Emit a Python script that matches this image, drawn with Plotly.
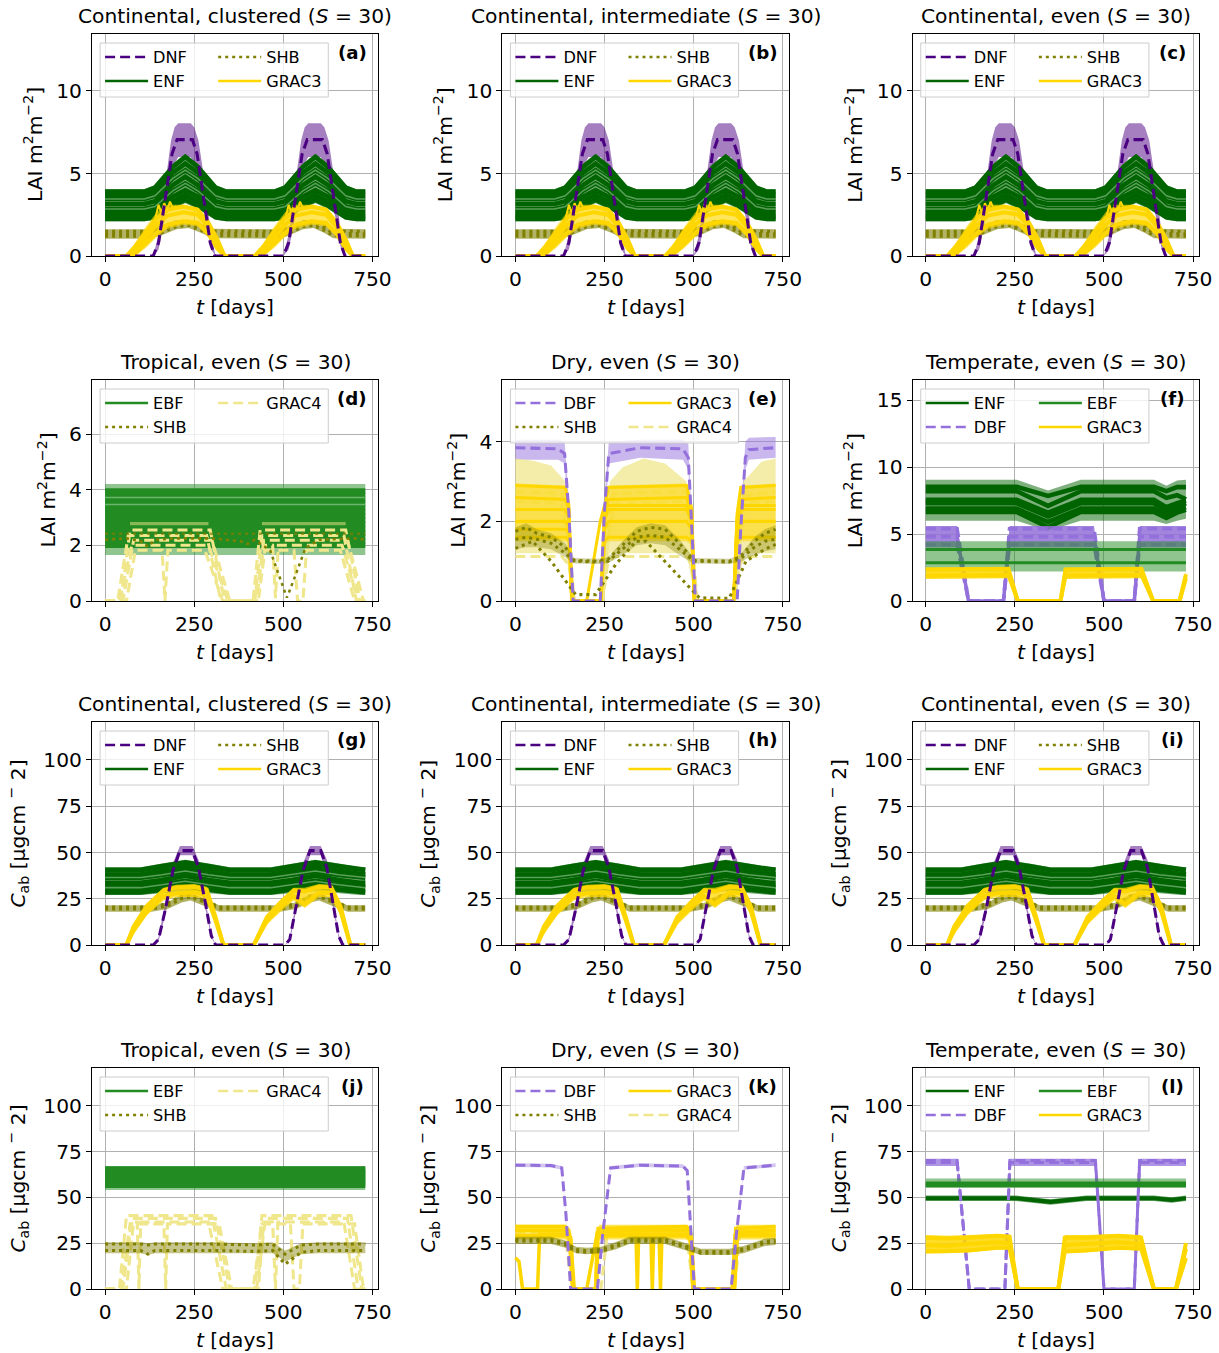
import plotly.graph_objects as go

# The captured page is slightly larger than the window (about 1.1% wider, 0.9% taller), so the figure is scaled up to make up for it
REF_W, REF_H = 1219, 1353
SCX = 1 / 0.989
SCY = 1 / 0.9915
W, H = round(REF_W * SCX), round(REF_H * SCY)
SC = SCX

# =====================================================================
# DATA  (x = day, y = LAI [m2 m-2] or Cab [ug cm-2])
# =====================================================================
FULL_T = [0, 730]

# ---------- (a)-(c) LAI, continental ----------
A_DNF_T = [0, 135, 150, 170, 188, 202, 245, 258, 277, 295, 308, 500, 515, 535, 553, 567, 610, 623, 642, 660, 673, 730]
A_DNF_Y = [0, 0, 0.8, 3.5, 6.2, 7.05, 7.05, 6.2, 3.5, 0.8, 0, 0, 0.8, 3.5, 6.2, 7.05, 7.05, 6.2, 3.5, 0.8, 0, 0]
A_DNF_BT = [0, 135, 150, 170, 185, 195, 205, 240, 250, 262, 280, 297, 310, 500, 515, 535, 550, 560, 570, 605, 615, 627, 645, 662, 675, 730]
A_DNF_HI = [0, 0, 1.3, 4.6, 7.0, 7.8, 8.05, 8.05, 7.8, 7.0, 4.4, 1.3, 0, 0, 1.3, 4.6, 7.0, 7.8, 8.05, 8.05, 7.8, 7.0, 4.4, 1.3, 0, 0]
A_DNF_LO = [0, 0, 0.4, 2.5, 4.5, 5.6, 6.0, 6.0, 5.6, 4.6, 2.5, 0.4, 0, 0, 0.4, 2.5, 4.5, 5.6, 6.0, 6.0, 5.6, 4.6, 2.5, 0.4, 0, 0]

A_ENF_T = [0, 110, 140, 190, 225, 260, 310, 340, 475, 505, 555, 590, 625, 675, 705, 730]
A_ENF_1 = [3.9, 3.9, 4.15, 5.4, 6.0, 5.4, 4.15, 3.9, 3.9, 4.15, 5.4, 6.0, 5.4, 4.15, 3.9, 3.9]
A_ENF_2 = [3.7, 3.7, 3.92, 5.05, 5.6, 5.05, 3.92, 3.7, 3.7, 3.92, 5.05, 5.6, 5.05, 3.92, 3.7, 3.7]
A_ENF_3 = [3.45, 3.45, 3.65, 4.7, 5.2, 4.7, 3.65, 3.45, 3.45, 3.65, 4.7, 5.2, 4.7, 3.65, 3.45, 3.45]
A_ENF_4 = [3.15, 3.15, 3.32, 4.3, 4.8, 4.3, 3.32, 3.15, 3.15, 3.32, 4.3, 4.8, 4.3, 3.32, 3.15, 3.15]
A_ENF_5 = [2.85, 2.85, 3.0, 3.95, 4.4, 3.95, 3.0, 2.85, 2.85, 3.0, 3.95, 4.4, 3.95, 3.0, 2.85, 2.85]
A_ENF_6 = [2.6, 2.6, 2.75, 3.6, 4.0, 3.6, 2.75, 2.6, 2.6, 2.75, 3.6, 4.0, 3.6, 2.75, 2.6, 2.6]
A_ENF_7 = [2.4, 2.4, 2.52, 3.3, 3.7, 3.3, 2.52, 2.4, 2.4, 2.52, 3.3, 3.7, 3.3, 2.52, 2.4, 2.4]
A_ENF_8 = [2.25, 2.25, 2.35, 3.05, 3.4, 3.05, 2.35, 2.25, 2.25, 2.35, 3.05, 3.4, 3.05, 2.35, 2.25, 2.25]
A_ENF_HI = [4.05, 4.05, 4.3, 5.6, 6.2, 5.6, 4.3, 4.05, 4.05, 4.3, 5.6, 6.2, 5.6, 4.3, 4.05, 4.05]
A_ENF_LO = [2.1, 2.1, 2.2, 2.85, 3.2, 2.85, 2.2, 2.1, 2.1, 2.2, 2.85, 3.2, 2.85, 2.2, 2.1, 2.1]
A_ENF_LINES = [A_ENF_1, A_ENF_2, A_ENF_3, A_ENF_4, A_ENF_5, A_ENF_6, A_ENF_7, A_ENF_8]
A_ENF_PALE = [A_ENF_3, A_ENF_5]

A_SHB_T = [0, 110, 150, 200, 235, 270, 300, 470, 510, 555, 585, 615, 640, 730]
A_SHB_1 = [1.35, 1.35, 1.5, 1.95, 2.0, 1.7, 1.38, 1.35, 1.5, 1.95, 2.0, 1.7, 1.38, 1.35]
A_SHB_2 = [1.5, 1.5, 1.65, 2.07, 2.1, 1.82, 1.52, 1.5, 1.65, 2.07, 2.1, 1.82, 1.52, 1.5]
A_SHB_3 = [1.2, 1.2, 1.33, 1.78, 1.85, 1.55, 1.23, 1.2, 1.33, 1.78, 1.85, 1.55, 1.23, 1.2]
A_SHB_HI = [1.62, 1.62, 1.78, 2.17, 2.2, 1.95, 1.65, 1.62, 1.78, 2.17, 2.2, 1.95, 1.65, 1.62]
A_SHB_LO = [1.05, 1.05, 1.18, 1.62, 1.7, 1.4, 1.08, 1.05, 1.18, 1.62, 1.7, 1.4, 1.08, 1.05]
A_SHB_LINES = [A_SHB_1, A_SHB_2, A_SHB_3]

A_G3_T = [0, 60, 85, 115, 145, 175, 220, 260, 290, 315, 335, 420, 445, 475, 505, 535, 580, 620, 650, 675, 695, 730]
A_G3_1 = [0, 0, 0.6, 1.5, 2.3, 2.8, 3.0, 2.8, 2.0, 1.0, 0, 0, 0.6, 1.5, 2.3, 2.8, 3.0, 2.8, 2.0, 1.0, 0, 0]
A_G3_2 = [0, 0, 0.35, 1.1, 1.9, 2.45, 2.65, 2.5, 1.75, 0.75, 0, 0, 0.35, 1.1, 1.9, 2.45, 2.65, 2.5, 1.75, 0.75, 0, 0]
A_G3_3 = [0, 0, 0.15, 0.75, 1.4, 1.9, 2.1, 2.0, 1.35, 0.45, 0, 0, 0.15, 0.75, 1.4, 1.9, 2.1, 2.0, 1.35, 0.45, 0, 0]
A_G3_HI = [0, 0, 0.8, 1.8, 2.65, 3.1, 3.1, 2.95, 2.2, 1.2, 0, 0, 0.8, 1.8, 2.65, 3.1, 3.1, 2.95, 2.2, 1.2, 0, 0]
A_G3_LO = [0, 0, 0, 0.5, 1.15, 1.65, 1.9, 1.8, 1.1, 0.3, 0, 0, 0, 0.5, 1.15, 1.65, 1.9, 1.8, 1.1, 0.3, 0, 0]
A_G3_LINES = [A_G3_1, A_G3_2, A_G3_3]
A_G3_ZZ_T = [140, 150, 158, 166, 174, 182, 190, 200, None, 505, 515, 523, 531, 539, 547, 555, 565]
A_G3_ZZ_Y = [2.2, 3.1, 2.6, 3.2, 2.75, 3.3, 2.9, 3.0, None, 2.2, 3.1, 2.6, 3.2, 2.75, 3.3, 2.9, 3.0]

# ---------- (d) LAI, tropical ----------
D_EBF_LEVELS = [3.95, 3.8, 3.65, 3.5, 3.35, 3.2, 3.05, 2.9, 2.75, 2.6, 2.45, 2.3, 2.15, 2.0]
D_EBF_PALE = [3.72, 3.47]
D_EBF_HI = [4.2, 4.2]
D_EBF_LO = [1.65, 1.65]
D_G4_TOP_T = [70, 290, None, 440, 675]
D_G4_TOP_Y = [2.78, 2.78, None, 2.78, 2.78]
D_G4_1_T = [0, 45, 70, 295, 335, 415, 435, 675, 715, 730]
D_G4_1_Y = [0, 0, 2.55, 2.55, 0, 0, 2.55, 2.55, 0, 0]
D_G4_2_T = [0, 35, 65, 285, 325, 420, 440, 670, 705, 730]
D_G4_2_Y = [0, 0, 2.35, 2.35, 0, 0, 2.35, 2.35, 0, 0]
D_G4_3_T = [0, 50, 80, 300, 350, 425, 445, 680, 725, 730]
D_G4_3_Y = [0, 0, 2.18, 2.18, 0, 0, 2.18, 2.18, 0, 0]
D_G4_4_T = [0, 40, 75, 290, 345, 430, 450, 470, 478, 486, 665, 710, 730]
D_G4_4_Y = [0, 0, 2.0, 2.0, 0, 0, 2.0, 2.0, 0.1, 2.0, 2.0, 0, 0]
D_G4_5_T = [0, 60, 85, 160, 168, 176, 280, 330, 420, 445, 530, 540, 555, 565, 660, 700, 730]
D_G4_5_Y = [0, 0, 1.82, 1.82, 0, 1.82, 1.82, 0, 0, 1.82, 1.82, 0, 0, 1.82, 1.82, 0, 0]
D_SHB_1_T = [0, 60, 100, 120, 140, 200, 300, 380, 400, 420, 463, 487, 510, 535, 562, 600, 700, 730]
D_SHB_1_Y = [2.2, 2.25, 2.15, 1.95, 2.2, 2.25, 2.25, 2.15, 2.05, 2.2, 1.82, 0.95, 0.12, 0.95, 1.9, 2.2, 2.25, 2.2]
D_SHB_2_Y = [2.42, 2.42]

# ---------- (e) LAI, dry ----------
E_DBF_T = [0, 120, 138, 150, 162, 238, 250, 262, 350, 470, 485, 497, 505, 622, 632, 645, 655, 730]
E_DBF_Y = [3.85, 3.82, 3.7, 2.2, 0, 0, 2.3, 3.7, 3.85, 3.82, 3.6, 1.5, 0, 0, 1.8, 3.6, 3.8, 3.85]
E_DBF_HI = [4.05, 4.05, 4.0, 2.5, 0, 0, 2.6, 4.0, 4.05, 4.05, 3.95, 1.7, 0, 0, 2.1, 4.0, 4.1, 4.12]
E_DBF_LO = [3.55, 3.55, 3.45, 1.9, 0, 0, 2.0, 3.45, 3.6, 3.55, 3.3, 1.3, 0, 0, 1.5, 3.3, 3.55, 3.6]

E_G4B_T = [0, 50, 100, 140, 152, 165, 240, 252, 265, 300, 360, 420, 480, 492, 505, 615, 628, 640, 690, 730]
E_G4B_HI = [3.58, 3.52, 3.4, 3.0, 1.5, 0, 0, 1.5, 3.0, 3.35, 3.58, 3.45, 3.0, 1.5, 0, 0, 1.5, 3.0, 3.5, 3.58]
E_G4B_LO = [1.2, 1.2, 1.2, 1.2, 0.6, 0, 0, 0.6, 1.2, 1.2, 1.2, 1.2, 1.2, 0.6, 0, 0, 0.6, 1.2, 1.2, 1.2]
E_G4_T = [0, 130, 150, 165, 245, 258, 275, 480, 495, 510, 615, 628, 645, 730]
E_G4_1 = [2.75, 2.7, 1.5, 0, 0, 1.5, 2.7, 2.75, 1.5, 0, 0, 1.5, 2.65, 2.75]
E_G4_2 = [2.5, 2.45, 1.4, 0, 0, 1.4, 2.45, 2.5, 1.4, 0, 0, 1.4, 2.45, 2.5]
E_G4_3 = [1.12, 1.12, 0.9, 0, 0, 0.9, 1.12, 1.12, 0.9, 0, 0, 0.9, 1.12, 1.12]
E_G4_LINES = [E_G4_1, E_G4_2, E_G4_3]

E_G3_T = [0, 140, 150, 158, 240, 250, 260, 480, 495, 502, 612, 622, 632, 730]
E_G3_1 = [2.9, 2.85, 2.4, 0, 0, 2.3, 2.85, 2.9, 2.3, 0, 0, 2.2, 2.85, 2.9]
E_G3_2 = [2.6, 2.55, 2.3, 0, 0, 2.2, 2.55, 2.6, 2.2, 0, 0, 2.1, 2.55, 2.6]
E_G3_3 = [2.3, 2.3, 2.1, 0, 0, 2.0, 2.3, 2.3, 2.0, 0, 0, 2.0, 2.3, 2.3]
E_G3_4 = [2.0, 2.0, 1.9, 0, 0, 1.8, 2.0, 2.0, 1.8, 0, 0, 1.8, 2.0, 2.0]
E_G3_5 = [1.6, 1.6, 1.55, 0, 0, 1.5, 1.6, 1.6, 1.5, 0, 0, 1.5, 1.6, 1.6]
E_G3_LINES = [E_G3_1, E_G3_2, E_G3_3, E_G3_4, E_G3_5]
E_G3_HI = [2.95, 2.9, 2.5, 0, 0, 2.4, 2.9, 2.95, 2.4, 0, 0, 2.3, 2.9, 2.95]
E_G3_LO = [1.5, 1.5, 1.45, 0, 0, 1.4, 1.5, 1.5, 1.4, 0, 0, 1.4, 1.5, 1.5]
E_G3_6_T = [0, 142, 152, 160, 200, 220, 238, 250, 480, 494, 502, 612, 625, 632, 730]
E_G3_6_Y = [1.8, 1.8, 1.7, 0, 0, 1.0, 2.0, 2.4, 2.4, 2.0, 0, 0, 1.8, 2.4, 2.4]

E_SHB_A_T = [0, 48, 100, 169, 225, 280, 338, 366, 440, 516, 600, 647, 700, 730]
E_SHB_A_Y = [1.32, 1.5, 1.0, 0.16, 0.16, 0.9, 1.5, 1.5, 0.8, 0.08, 0.07, 1.0, 1.3, 1.42]
E_SHB_T = [0, 30, 60, 100, 140, 165, 230, 260, 300, 340, 380, 420, 460, 500, 600, 630, 670, 700, 730]
E_SHB_B = [1.75, 1.85, 1.7, 1.6, 1.35, 1.02, 1.0, 1.05, 1.4, 1.75, 1.85, 1.8, 1.45, 1.02, 1.0, 1.1, 1.5, 1.7, 1.8]
E_SHB_C = [1.55, 1.6, 1.55, 1.45, 1.2, 1.0, 0.98, 1.0, 1.3, 1.6, 1.65, 1.6, 1.3, 1.0, 0.98, 1.05, 1.35, 1.5, 1.55]
E_SHB_HI = [1.85, 1.95, 1.8, 1.7, 1.45, 1.08, 1.06, 1.1, 1.5, 1.85, 1.95, 1.9, 1.55, 1.08, 1.06, 1.15, 1.6, 1.8, 1.9]
E_SHB_LO = [1.3, 1.35, 1.35, 1.3, 1.1, 0.94, 0.93, 0.95, 1.15, 1.4, 1.45, 1.4, 1.15, 0.94, 0.93, 0.98, 1.15, 1.25, 1.3]

# ---------- (f) LAI, temperate ----------
F_ENF_T = [0, 255, 343, 435, 640, 675, 705, 730]
F_ENF_1 = [8.53, 8.53, 7.85, 8.53, 8.53, 8.2, 8.5, 8.5]
F_ENF_2 = [8.2, 8.2, 7.1, 8.2, 8.2, 7.7, 7.9, 7.6]
F_ENF_3 = [7.55, 7.55, 6.6, 7.55, 7.55, 7.0, 7.3, 7.5]
F_ENF_4 = [7.3, 7.3, 6.3, 7.3, 7.3, 6.7, 7.0, 7.3]
F_ENF_5 = [6.9, 6.9, 5.9, 6.9, 6.9, 6.4, 6.8, 7.0]
F_ENF_6 = [6.65, 6.65, 5.5, 6.65, 6.65, 6.2, 6.6, 6.8]
F_ENF_LINES = [F_ENF_1, F_ENF_2, F_ENF_3, F_ENF_4, F_ENF_5, F_ENF_6]
F_ENF_HI = [9.05, 9.05, 8.25, 9.05, 9.05, 8.6, 9.0, 9.05]
F_ENF_LO = [6.0, 6.0, 5.25, 6.0, 6.0, 5.75, 6.0, 6.15]
F_EBF_LEVELS = [3.85, 2.85]
F_EBF_HI = [4.47, 4.47]
F_EBF_LO = [2.2, 2.2]
F_DBF_T = [0, 88, 120, 218, 235, 472, 500, 585, 600, 730]
F_DBF_1 = [5.4, 5.4, 0, 0, 5.4, 5.4, 0, 0, 5.4, 5.4]
F_DBF_2 = [4.8, 4.8, 0, 0, 4.8, 4.8, 0, 0, 4.8, 4.8]
F_DBF_3 = [4.2, 4.2, 0, 0, 4.2, 4.2, 0, 0, 4.2, 4.2]
F_DBF_LINES = [F_DBF_1, F_DBF_2, F_DBF_3]
F_DBF_HI = [5.6, 5.6, 0, 0, 5.6, 5.6, 0, 0, 5.6, 5.6]
F_DBF_LO = [4.0, 4.0, 0, 0, 4.0, 4.0, 0, 0, 4.0, 4.0]
F_G3_T = [0, 232, 258, 378, 392, 605, 638, 712, 730]
F_G3_1 = [2.35, 2.4, 0, 0, 2.35, 2.4, 0, 0, 2.0]
F_G3_2 = [1.9, 1.95, 0, 0, 1.9, 1.95, 0, 0, 1.7]
F_G3_LINES = [F_G3_1, F_G3_2]
F_G3_HI = [2.5, 2.5, 0, 0, 2.5, 2.5, 0, 0, 2.2]
F_G3_LO = [1.65, 1.7, 0, 0, 1.65, 1.7, 0, 0, 1.5]

# ---------- (g)-(i) Cab, continental ----------
G_DNF_T = [0, 135, 150, 170, 190, 210, 245, 262, 282, 298, 310, 505, 518, 535, 555, 575, 605, 622, 640, 655, 667, 730]
G_DNF_Y = [0, 0, 3, 20, 40, 51, 51, 42, 22, 5, 0, 0, 3, 20, 40, 51, 51, 42, 22, 5, 0, 0]
G_DNF_HI = [0, 0, 4, 23, 44, 53.5, 53.5, 46, 25, 6, 0, 0, 4, 23, 44, 53.5, 53.5, 46, 25, 6, 0, 0]
G_DNF_LO = [0, 0, 2, 17, 36, 48.5, 48.5, 38, 19, 4, 0, 0, 2, 17, 36, 48.5, 48.5, 38, 19, 4, 0, 0]
G_ENF_T = [0, 100, 160, 225, 290, 350, 465, 525, 590, 655, 715, 730]
G_ENF_1 = [40.5, 40.5, 42.5, 44.5, 42.5, 40.5, 40.5, 42.5, 44.5, 42.5, 40.5, 40.5]
G_ENF_2 = [38, 38, 40, 42, 40, 38, 38, 40, 42, 40, 38, 38]
G_ENF_3 = [36.5, 36.5, 38, 40, 38, 36.5, 36.5, 38, 40, 38, 36.5, 36.5]
G_ENF_4 = [33.5, 33.5, 35, 37.5, 35, 33.5, 33.5, 35, 37.5, 35, 33.5, 33.5]
G_ENF_5 = [31, 31, 32.5, 34.5, 32.5, 31, 31, 32.5, 34.5, 32.5, 31, 31]
G_ENF_6 = [28.5, 28.5, 30, 32, 30, 28.5, 28.5, 30, 32, 30, 28.5, 28.5]
G_ENF_LINES = [G_ENF_1, G_ENF_2, G_ENF_3, G_ENF_4, G_ENF_5, G_ENF_6]
G_ENF_PALE = [G_ENF_3, G_ENF_5]
G_ENF_HI = [42, 42, 44, 46, 44, 42, 42, 44, 46, 44, 42, 42]
G_ENF_LO = [27, 27, 28, 29, 28, 27, 27, 28, 29, 28, 27, 27]
G_SHB_T = [0, 130, 175, 215, 240, 280, 320, 490, 535, 575, 600, 640, 680, 730]
G_SHB_1 = [19.5, 19.5, 21, 25, 26, 23, 19.5, 19.5, 21, 25, 26, 23, 19.5, 19.5]
G_SHB_2 = [20.5, 20.5, 22.5, 26.5, 27, 24, 20.5, 20.5, 22.5, 26.5, 27, 24, 20.5, 20.5]
G_SHB_LINES = [G_SHB_1, G_SHB_2]
G_SHB_HI = [21.5, 21.5, 23, 27.5, 28, 25, 21.5, 21.5, 23, 27.5, 28, 25, 21.5, 21.5]
G_SHB_LO = [18, 18, 19.5, 23, 24, 21, 18, 18, 19.5, 23, 24, 21, 18, 18]
G_G3_T = [0, 60, 80, 117, 164, 200, 250, 285, 310, 332, 417, 454, 492, 529, 560, 600, 635, 661, 688, 730]
G_G3_1 = [0, 0, 10, 21, 29.5, 31, 31.5, 30, 15, 0, 0, 15, 23, 29.5, 29, 31.5, 31, 20.5, 0, 0]
G_G3_2 = [0, 0, 8, 18, 26.5, 28, 28.5, 27, 13, 0, 0, 13, 20.5, 26.5, 22, 28.5, 28, 18, 0, 0]
G_G3_LINES = [G_G3_1, G_G3_2]
G_G3_HI = [0, 0, 11, 22.5, 31, 32.5, 33, 31.5, 16, 0, 0, 16, 24, 31, 31, 33, 32.5, 22, 0, 0]
G_G3_LO = [0, 0, 6, 16, 24, 26, 26, 25, 11, 0, 0, 11, 18, 24, 20, 26, 26, 16, 0, 0]

# ---------- (j) Cab, tropical ----------
J_EBF_LEVELS = [65.5, 64, 62.5, 61, 59.5, 58, 56.5]
J_EBF_HI = [67, 67]
J_EBF_LO = [54, 54]
J_G4_1_T = [0, 40, 60, 300, 340, 420, 440, 690, 720, 730]
J_G4_1_Y = [0, 0, 40, 40, 0, 0, 40, 40, 0, 0]
J_G4_2_T = [0, 50, 75, 310, 350, 425, 450, 680, 710, 730]
J_G4_2_Y = [0, 0, 38.5, 38.5, 0, 0, 38.5, 38.5, 0, 0]
J_G4_3_T = [0, 60, 80, 90, 95, 100, 290, 330, 430, 445, 470, 478, 485, 670, 700, 730]
J_G4_3_Y = [0, 0, 36.5, 36.5, 0, 36.5, 36.5, 0, 0, 36.5, 36.5, 0, 36.5, 36.5, 0, 0]
J_G4_4_T = [0, 45, 70, 165, 170, 175, 320, 355, 415, 440, 520, 530, 545, 555, 700, 725, 730]
J_G4_4_Y = [0, 0, 35.5, 35.5, 0, 35.5, 35.5, 0, 0, 35.5, 35.5, 0, 0, 35.5, 35.5, 0, 0]
J_SHB_T = [0, 100, 120, 140, 300, 420, 470, 505, 550, 600, 730]
J_SHB_1 = [24.5, 24.5, 24, 24.5, 24.5, 24, 24.5, 19, 24, 24.5, 24.5]
J_SHB_2 = [21, 21, 19, 21, 21, 20.5, 21, 13.5, 20, 21, 21]
J_SHB_HI = [25.5, 25.5, 25, 25.5, 25.5, 25, 25.5, 21, 25, 25.5, 25.5]
J_SHB_LO = [19.5, 19.5, 18.5, 19.5, 19.5, 19.5, 19.5, 15, 19, 19.5, 19.5]

# ---------- (k) Cab, dry ----------
K_DBF_T = [0, 100, 130, 142, 155, 230, 245, 267, 350, 470, 482, 492, 502, 605, 620, 641, 730]
K_DBF_Y = [67.5, 67.3, 66, 40, 0, 0, 30, 66, 67.5, 67, 64.5, 30, 0, 0, 30, 66, 67.5]
K_DBF_HI = [68.5, 68.3, 67, 41, 0, 0, 31, 67, 68.5, 68, 65.5, 31, 0, 0, 31, 67, 68.5]
K_DBF_LO = [66.5, 66.3, 65, 39, 0, 0, 29, 65, 66.5, 66, 63.5, 29, 0, 0, 29, 65, 66.5]
K_G4_T = [0, 140, 158, 240, 258, 480, 498, 615, 630, 730]
K_G4_Y = [31, 31, 0, 0, 31, 31, 0, 0, 31, 31]
K_G3_1_T = [0, 140, 150, 160, 228, 232, 480, 490, 498, 610, 618, 730]
K_G3_1_Y = [34, 34, 32, 0, 0, 33, 34, 32, 0, 0, 33, 34]
K_G3_2_T = [0, 142, 152, 162, 226, 230, 338, 342, 346, 484, 492, 500, 612, 620, 730]
K_G3_2_Y = [32, 32, 30, 0, 0, 31, 32, 0, 32, 32, 30, 0, 0, 31, 32]
K_G3_3_T = [0, 10, 20, 62, 68, 145, 155, 163, 200, 215, 229, 380, 384, 388, 486, 494, 502, 615, 623, 730]
K_G3_3_Y = [17, 15, 0, 0, 30, 30, 28, 0, 0, 15, 30, 30, 0, 30, 30, 28, 0, 0, 30, 30]
K_G3_4_T = [0, 145, 155, 165, 225, 230, 403, 407, 411, 482, 490, 498, 608, 616, 730]
K_G3_4_Y = [29, 29, 27, 0, 0, 29, 29, 0, 29, 29, 27, 0, 0, 29, 29]
K_G3B_T = [0, 140, 150, 160, 228, 235, 480, 490, 500, 610, 620, 730]
K_G3B_HI = [35, 35, 33, 0, 0, 35, 35, 33, 0, 0, 35, 35]
K_G3B_LO = [27, 27, 25, 0, 0, 27, 27, 25, 0, 0, 27, 27]
K_SHB_T = [0, 100, 140, 170, 200, 240, 280, 320, 420, 470, 520, 600, 640, 700, 730]
K_SHB_1 = [27, 27, 25, 21.5, 21, 21.5, 24, 27, 27, 24, 20.5, 20.5, 22, 26, 26.5]
K_SHB_2 = [26, 26, 24, 20.5, 20, 20.5, 23, 26, 26, 23, 19.5, 19.5, 21, 25, 25.5]
K_SHB_HI = [28.5, 28.5, 26.5, 23, 22.5, 23, 25.5, 28.5, 28.5, 25.5, 22, 22, 23.5, 27.5, 28]
K_SHB_LO = [24.5, 24.5, 22.5, 19.5, 19, 19.5, 21.5, 24.5, 24.5, 21.5, 18.5, 18.5, 19.5, 23.5, 24]

# ---------- (l) Cab, temperate ----------
L_ENF_T = [0, 250, 350, 450, 640, 690, 730]
L_ENF_Y = [49.5, 49.5, 47.5, 49.5, 49.5, 48.5, 49.5]
L_ENF_HI = [51, 51, 49, 51, 51, 50, 51]
L_ENF_LO = [48, 48, 46, 48, 48, 47, 48]
L_EBF_LEVELS = [57.5, 56.5]
L_EBF_HI = [60.3, 60.3]
L_EBF_LO = [55.5, 55.5]
L_DBF_T = [0, 88, 122, 222, 236, 476, 500, 585, 600, 730]
L_DBF_1 = [69, 69, 0, 0, 69, 69, 0, 0, 69, 69]
L_DBF_2 = [70, 70, 0, 0, 70, 70, 0, 0, 70, 70]
L_DBF_LINES = [L_DBF_1, L_DBF_2]
L_DBF_HI = [71, 71, 0, 0, 71, 71, 0, 0, 71, 71]
L_DBF_LO = [67, 67, 0, 0, 67, 67, 0, 0, 67, 67]
L_G3_T = [0, 60, 120, 200, 235, 258, 372, 390, 450, 540, 604, 640, 702, 730]
L_G3_1 = [28, 27.5, 28, 29, 28.5, 0, 0, 28, 28, 29, 28, 0, 0, 25]
L_G3_2 = [24, 23.5, 24.5, 25.5, 25, 0, 0, 24, 24.5, 25.5, 24.5, 0, 0, 22]
L_G3_3 = [20.5, 20.5, 21, 22.5, 22.5, 0, 0, 20.5, 21, 22.5, 22, 0, 0, 17]
L_G3_LINES = [L_G3_1, L_G3_2, L_G3_3]
L_G3_HI = [29.5, 29, 29.5, 30, 29.5, 0, 0, 29.5, 29.5, 30, 29.5, 0, 0, 26]
L_G3_LO = [19.5, 19.5, 20, 21.5, 21.5, 0, 0, 19.5, 20, 21.5, 21, 0, 0, 15]

# ---------- axis ticks ----------
X_TICKS = [0, 250, 500, 750]
LAI_TICKS_A = [0, 5, 10]
LAI_TICKS_D = [0, 2, 4, 6]
LAI_TICKS_E = [0, 2, 4]
LAI_TICKS_F = [0, 5, 10, 15]
CAB_TICKS = [0, 25, 50, 75, 100]

# =====================================================================
# STYLE / LAYOUT
# =====================================================================
COLOR = {'DNF': '#4B0082', 'ENF': '#006400', 'SHB': '#808000', 'GRAC3': '#FFD700',
         'EBF': '#228B22', 'GRAC4': '#F0E68C', 'DBF': '#9370DB'}
DASH = {'DNF': '10px,5px', 'ENF': 'solid', 'SHB': '3px,4px', 'GRAC3': 'solid',
        'EBF': 'solid', 'GRAC4': '10px,5px', 'DBF': '10px,5px'}
FONT = 'DejaVu Sans'
FS = 20 * SC
FS_LEG = 16 * SC
FS_LET = 18 * SC
COL_L = [92, 502, 912]
COL_R = [378, 788, 1198]
ROW_T = [34, 380, 722, 1068]
ROW_B = [256, 601, 945, 1289]

fig = go.Figure()


def rgba(h, a):
    h = h.lstrip('#')
    return 'rgba(%d,%d,%d,%.3f)' % (int(h[0:2], 16), int(h[2:4], 16), int(h[4:6], 16), a)


def axn(i):
    return ('x' if i == 0 else 'x%d' % (i + 1)), ('y' if i == 0 else 'y%d' % (i + 1))


def band(ax, pft, T, lo, hi, alpha=0.5):
    xa, ya = axn(ax)
    fig.add_trace(go.Scatter(x=list(T) + list(T)[::-1], y=list(hi) + list(lo)[::-1],
                             fill='toself', fillcolor=rgba(COLOR[pft], alpha),
                             line=dict(width=0), mode='lines', showlegend=False,
                             hoverinfo='skip', xaxis=xa, yaxis=ya))


def line(ax, pft, T, Y, width=3.0, opacity=1.0, dash=None, color=None):
    xa, ya = axn(ax)
    fig.add_trace(go.Scatter(x=T, y=Y, mode='lines',
                             line=dict(color=color or COLOR[pft], width=width * SC, dash=dash or DASH[pft]),
                             opacity=opacity, showlegend=False, hoverinfo='skip',
                             connectgaps=False, xaxis=xa, yaxis=ya))


PALE_GREEN = 'rgba(200,230,200,0.45)'


def draw_A(ax):
    band(ax, 'DNF', A_DNF_BT, A_DNF_LO, A_DNF_HI)
    band(ax, 'ENF', A_ENF_T, A_ENF_LO, A_ENF_HI, 0.55)
    for y in A_ENF_LINES:
        line(ax, 'ENF', A_ENF_T, y, width=4.5)
    for y in A_ENF_PALE:
        line(ax, 'ENF', A_ENF_T, y, width=1.5, color=PALE_GREEN)
    band(ax, 'SHB', A_SHB_T, A_SHB_LO, A_SHB_HI, 0.6)
    for y in A_SHB_LINES:
        line(ax, 'SHB', A_SHB_T, y)
    band(ax, 'GRAC3', A_G3_T, A_G3_LO, A_G3_HI, 0.65)
    for y in A_G3_LINES:
        line(ax, 'GRAC3', A_G3_T, y, width=4)
    line(ax, 'GRAC3', A_G3_ZZ_T, A_G3_ZZ_Y, width=2)
    line(ax, 'DNF', A_DNF_T, A_DNF_Y)


def draw_D(ax):
    band(ax, 'EBF', FULL_T, D_EBF_LO, D_EBF_HI)
    for lv in D_EBF_LEVELS:
        line(ax, 'EBF', FULL_T, [lv, lv], width=5.5)
    for lv in D_EBF_PALE:
        line(ax, 'EBF', FULL_T, [lv, lv], width=1.5, color=PALE_GREEN)
    line(ax, 'GRAC4', D_G4_TOP_T, D_G4_TOP_Y, width=3, opacity=0.5, dash='solid')
    for T, Y in [(D_G4_1_T, D_G4_1_Y), (D_G4_2_T, D_G4_2_Y), (D_G4_3_T, D_G4_3_Y),
                 (D_G4_4_T, D_G4_4_Y), (D_G4_5_T, D_G4_5_Y)]:
        line(ax, 'GRAC4', T, Y, width=3)
    line(ax, 'SHB', FULL_T, D_SHB_2_Y, width=2.5, opacity=0.7)
    line(ax, 'SHB', D_SHB_1_T, D_SHB_1_Y, width=2.5)


def draw_E(ax):
    band(ax, 'DBF', E_DBF_T, E_DBF_LO, E_DBF_HI)
    band(ax, 'GRAC4', E_G4B_T, E_G4B_LO, E_G4B_HI, 0.75)
    for y in E_G4_LINES:
        line(ax, 'GRAC4', E_G4_T, y)
    band(ax, 'GRAC3', E_G3_T, E_G3_LO, E_G3_HI, 0.55)
    for y in E_G3_LINES:
        line(ax, 'GRAC3', E_G3_T, y)
    line(ax, 'GRAC3', E_G3_6_T, E_G3_6_Y)
    band(ax, 'SHB', E_SHB_T, E_SHB_LO, E_SHB_HI, 0.35)
    line(ax, 'SHB', E_SHB_T, E_SHB_B)
    line(ax, 'SHB', E_SHB_T, E_SHB_C)
    line(ax, 'SHB', E_SHB_A_T, E_SHB_A_Y)
    line(ax, 'DBF', E_DBF_T, E_DBF_Y)


def draw_F(ax):
    band(ax, 'ENF', F_ENF_T, F_ENF_LO, F_ENF_HI)
    for y in F_ENF_LINES:
        line(ax, 'ENF', F_ENF_T, y, width=4.5)
    band(ax, 'DBF', F_DBF_T, F_DBF_LO, F_DBF_HI, 0.85)
    for y in F_DBF_LINES:
        line(ax, 'DBF', F_DBF_T, y, width=3.5)
    band(ax, 'EBF', FULL_T, F_EBF_LO, F_EBF_HI)
    for lv in F_EBF_LEVELS:
        line(ax, 'EBF', FULL_T, [lv, lv])
    band(ax, 'GRAC3', F_G3_T, F_G3_LO, F_G3_HI, 0.85)
    for y in F_G3_LINES:
        line(ax, 'GRAC3', F_G3_T, y, width=4)


def draw_G(ax):
    band(ax, 'DNF', G_DNF_T, G_DNF_LO, G_DNF_HI)
    band(ax, 'ENF', G_ENF_T, G_ENF_LO, G_ENF_HI, 0.55)
    for y in G_ENF_LINES:
        line(ax, 'ENF', G_ENF_T, y, width=5)
    for y in G_ENF_PALE:
        line(ax, 'ENF', G_ENF_T, y, width=1.5, color=PALE_GREEN)
    band(ax, 'SHB', G_SHB_T, G_SHB_LO, G_SHB_HI, 0.6)
    for y in G_SHB_LINES:
        line(ax, 'SHB', G_SHB_T, y)
    band(ax, 'GRAC3', G_G3_T, G_G3_LO, G_G3_HI, 0.75)
    for y in G_G3_LINES:
        line(ax, 'GRAC3', G_G3_T, y, width=4)
    line(ax, 'DNF', G_DNF_T, G_DNF_Y)


def draw_J(ax):
    band(ax, 'EBF', FULL_T, J_EBF_LO, J_EBF_HI)
    for lv in J_EBF_LEVELS:
        line(ax, 'EBF', FULL_T, [lv, lv], width=5)
    for T, Y in [(J_G4_1_T, J_G4_1_Y), (J_G4_2_T, J_G4_2_Y), (J_G4_3_T, J_G4_3_Y), (J_G4_4_T, J_G4_4_Y)]:
        line(ax, 'GRAC4', T, Y, width=3)
    band(ax, 'SHB', J_SHB_T, J_SHB_LO, J_SHB_HI, 0.45)
    line(ax, 'SHB', J_SHB_T, J_SHB_1)
    line(ax, 'SHB', J_SHB_T, J_SHB_2)


def draw_K(ax):
    line(ax, 'GRAC4', K_G4_T, K_G4_Y)
    band(ax, 'GRAC3', K_G3B_T, K_G3B_LO, K_G3B_HI, 0.65)
    for T, Y in [(K_G3_1_T, K_G3_1_Y), (K_G3_2_T, K_G3_2_Y), (K_G3_3_T, K_G3_3_Y), (K_G3_4_T, K_G3_4_Y)]:
        line(ax, 'GRAC3', T, Y, width=3.5)
    band(ax, 'SHB', K_SHB_T, K_SHB_LO, K_SHB_HI, 0.55)
    line(ax, 'SHB', K_SHB_T, K_SHB_1)
    line(ax, 'SHB', K_SHB_T, K_SHB_2)
    band(ax, 'DBF', K_DBF_T, K_DBF_LO, K_DBF_HI, 0.4)
    line(ax, 'DBF', K_DBF_T, K_DBF_Y)


def draw_L(ax):
    band(ax, 'ENF', L_ENF_T, L_ENF_LO, L_ENF_HI, 0.6)
    line(ax, 'ENF', L_ENF_T, L_ENF_Y, width=4)
    band(ax, 'DBF', L_DBF_T, L_DBF_LO, L_DBF_HI, 0.75)
    for y in L_DBF_LINES:
        line(ax, 'DBF', L_DBF_T, y, width=3)
    band(ax, 'EBF', FULL_T, L_EBF_LO, L_EBF_HI)
    for lv in L_EBF_LEVELS:
        line(ax, 'EBF', FULL_T, [lv, lv], width=4)
    band(ax, 'GRAC3', L_G3_T, L_G3_LO, L_G3_HI, 0.85)
    for y in L_G3_LINES:
        line(ax, 'GRAC3', L_G3_T, y, width=4)


LEG_A = (['DNF', 'ENF'], ['SHB', 'GRAC3'])
LEG_D = (['EBF', 'SHB'], ['GRAC4'])
LEG_E = (['DBF', 'SHB'], ['GRAC3', 'GRAC4'])
LEG_F = (['ENF', 'DBF'], ['EBF', 'GRAC3'])

LAI_LAB = 'LAI m<sup>2</sup>m<sup>\u22122</sup>]'
CAB_LAB = '<i>C</i><sub>ab</sub> [\u03bcgcm <sup>\u2212</sup> 2]'

PANELS = [
    ('a', 'Continental, clustered', LAI_LAB, [0, 13.45], LAI_TICKS_A, 59, draw_A, LEG_A),
    ('b', 'Continental, intermediate', LAI_LAB, [0, 13.45], LAI_TICKS_A, 59, draw_A, LEG_A),
    ('c', 'Continental, even', LAI_LAB, [0, 13.45], LAI_TICKS_A, 59, draw_A, LEG_A),
    ('d', 'Tropical, even', LAI_LAB, [0, 7.94], LAI_TICKS_D, 46, draw_D, LEG_D),
    ('e', 'Dry, even', LAI_LAB, [0, 5.55], LAI_TICKS_E, 46, draw_E, LEG_E),
    ('f', 'Temperate, even', LAI_LAB, [0, 16.5], LAI_TICKS_F, 60, draw_F, LEG_F),
    ('g', 'Continental, clustered', CAB_LAB, [0, 120.5], CAB_TICKS, 74, draw_G, LEG_A),
    ('h', 'Continental, intermediate', CAB_LAB, [0, 120.5], CAB_TICKS, 74, draw_G, LEG_A),
    ('i', 'Continental, even', CAB_LAB, [0, 120.5], CAB_TICKS, 74, draw_G, LEG_A),
    ('j', 'Tropical, even', CAB_LAB, [0, 120.5], CAB_TICKS, 74, draw_J, LEG_D),
    ('k', 'Dry, even', CAB_LAB, [0, 120.5], CAB_TICKS, 74, draw_K, LEG_E),
    ('l', 'Temperate, even', CAB_LAB, [0, 120.5], CAB_TICKS, 74, draw_L, LEG_F),
]


def pxx(x):
    return x / REF_W


def pyy(y):
    return 1 - y / REF_H


layout = dict(width=W, height=H, margin=dict(l=0, r=0, t=0, b=0),
              paper_bgcolor='white', plot_bgcolor='white',
              font=dict(family=FONT, size=FS, color='black'), showlegend=True)
annotations = []
shapes = []
leg_idx = 0
for i, (letter, title, ylab, yr, yt, yoff, drawer, leg) in enumerate(PANELS):
    r, c = divmod(i, 3)
    L, R, T, B = COL_L[c], COL_R[c], ROW_T[r], ROW_B[r]
    xa, ya = axn(i)
    xkey = 'xaxis' if i == 0 else 'xaxis%d' % (i + 1)
    ykey = 'yaxis' if i == 0 else 'yaxis%d' % (i + 1)
    common = dict(showgrid=True, gridcolor='#b0b0b0', gridwidth=1, showline=True,
                  linecolor='black', linewidth=1.2, mirror=True, ticks='outside',
                  ticklen=5, tickwidth=1.2, tickcolor='black', zeroline=False,
                  tickfont=dict(size=FS, family=FONT, color='black'))
    layout[xkey] = dict(domain=[pxx(L), pxx(R)], anchor=ya, range=[-36.5, 766.5],
                        tickvals=X_TICKS, **common)
    layout[ykey] = dict(domain=[pyy(B), pyy(T)], anchor=xa, range=yr, tickvals=yt, **common)
    drawer(i)
    annotations.append(dict(text=title + ' (<i>S</i> = 30)', x=pxx((L + R) / 2), y=pyy(T - 18),
                            xref='paper', yref='paper', showarrow=False, xanchor='center',
                            yanchor='middle', font=dict(size=FS, family=FONT)))
    annotations.append(dict(text=ylab, x=pxx(L - yoff), y=pyy((T + B) / 2), textangle=-90,
                            xref='paper', yref='paper', showarrow=False, xanchor='center',
                            yanchor='middle', font=dict(size=FS, family=FONT)))
    annotations.append(dict(text='<i>t</i> [days]', x=pxx((L + R) / 2), y=pyy(B + 51),
                            xref='paper', yref='paper', showarrow=False, xanchor='center',
                            yanchor='middle', font=dict(size=FS, family=FONT)))
    annotations.append(dict(text='<b>(%s)</b>' % letter, x=pxx(R - 26), y=pyy(T + 18),
                            xref='paper', yref='paper', showarrow=False, xanchor='center',
                            yanchor='middle', font=dict(size=FS_LET, family=FONT)))
    shapes.append(dict(type='rect', xref='paper', yref='paper', x0=pxx(L + 8), x1=pxx(L + 236),
                       y0=pyy(T + 63), y1=pyy(T + 9), layer='above',
                       fillcolor='rgba(255,255,255,0.8)', line=dict(color='#cccccc', width=1)))
    for col, items in enumerate(leg):
        lname = 'legend' if leg_idx == 0 else 'legend%d' % (leg_idx + 1)
        leg_idx += 1
        for pft in items:
            fig.add_trace(go.Scatter(x=[None], y=[None], mode='lines', name=pft,
                                     line=dict(color=COLOR[pft], width=2.5 * SC, dash=DASH[pft]),
                                     legend=lname, legendgroup=letter + pft, showlegend=True,
                                     xaxis=xa, yaxis=ya, hoverinfo='skip'))
        layout[lname] = dict(x=pxx(L + 8 + col * 113), y=pyy(T + 6), xanchor='left', yanchor='top',
                             orientation='v', bgcolor='rgba(0,0,0,0)', borderwidth=0,
                             font=dict(size=FS_LEG, family=FONT, color='black'), itemwidth=round(43 * SC),
                             tracegroupgap=3, traceorder='normal')

layout['annotations'] = annotations
layout['shapes'] = shapes
fig.update_layout(**layout)
fig.write_html('out.html', config={'displayModeBar': False}, post_script=(
    "document.documentElement.style.margin='0';document.body.style.margin='0';"
    "document.documentElement.style.overflow='hidden';document.body.style.overflow='hidden';"))
